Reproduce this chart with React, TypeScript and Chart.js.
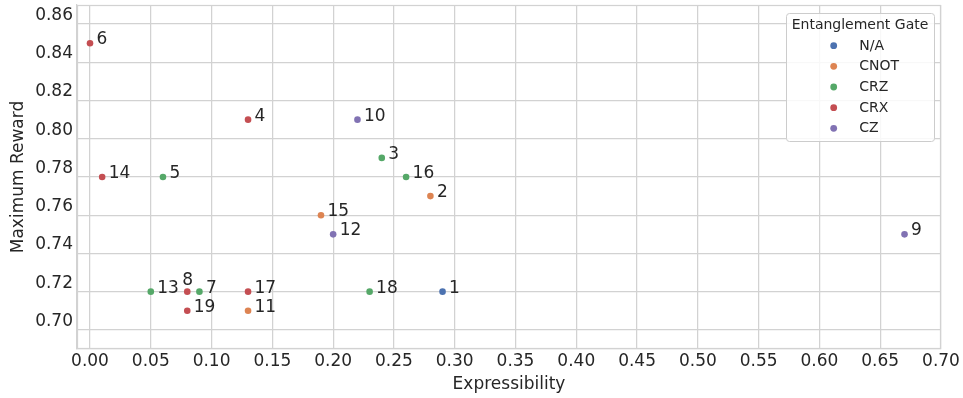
import React, { useEffect, useRef } from "react";
import { Chart, registerables } from "chart.js";

Chart.register(...registerables);

// ---- data ----
const circuitIds = ["1", "2", "3", "4", "5", "6", "7", "8", "9", "10", "11", "12", "13", "14", "15", "16", "17", "18", "19"];
const expressibility = [0.29, 0.28, 0.24, 0.13, 0.06, 0.0, 0.09, 0.08, 0.67, 0.22, 0.13, 0.2, 0.05, 0.01, 0.19, 0.26, 0.13, 0.23, 0.08];
const maxReward = [0.72, 0.77, 0.79, 0.81, 0.78, 0.85, 0.72, 0.72, 0.75, 0.81, 0.71, 0.75, 0.72, 0.78, 0.76, 0.78, 0.72, 0.72, 0.71];
const gateOfCircuit = ["N/A", "CNOT", "CRZ", "CRX", "CRZ", "CRX", "CRZ", "CRX", "CZ", "CZ", "CNOT", "CZ", "CRZ", "CRX", "CNOT", "CRZ", "CRX", "CRZ", "CRX"];
const gateTypes = ["N/A", "CNOT", "CRZ", "CRX", "CZ"];
const gateColors = ["#4C72B0", "#DD8452", "#55A868", "#C44E52", "#8172B3"];
const xTickValues = [0, 0.05, 0.1, 0.15, 0.2, 0.25, 0.3, 0.35, 0.4, 0.45, 0.5, 0.55, 0.6, 0.65, 0.7];
const yTickValues = [0.7, 0.72, 0.74, 0.76, 0.78, 0.8, 0.82, 0.84, 0.86];
const xTitle = "Expressibility";
const yTitle = "Maximum Reward";
const legendTitle = "Entanglement Gate";

const TEXT = "#262626";
const GRID = "#d2d2d2";
const FONT = "DejaVu Sans";

const frameTextPlugin = {
  id: "frameText",
  beforeDatasetsDraw(chart: any) {
    const { ctx, chartArea } = chart;
    ctx.save();
    ctx.strokeStyle = GRID;
    ctx.lineWidth = 1.25;
    ctx.strokeRect(chartArea.left + 0.5, chartArea.top + 0.5, chartArea.right - chartArea.left - 1, chartArea.bottom - chartArea.top - 1);
    ctx.restore();
  },
  afterDatasetsDraw(chart: any) {
    const { ctx } = chart;
    const xs = chart.scales.x;
    const ys = chart.scales.y;
    ctx.save();
    ctx.fillStyle = TEXT;
    ctx.font = `17px "${FONT}"`;
    ctx.textBaseline = "alphabetic";
    circuitIds.forEach((id, i) => {
      const px = xs.getPixelForValue(expressibility[i]);
      const py = ys.getPixelForValue(maxReward[i]);
      if (id === "8") {
        ctx.textAlign = "center";
        ctx.fillText(id, px + 0.5, py - 7);
      } else {
        ctx.textAlign = "left";
        ctx.fillText(id, px + 6.5, py + 1);
      }
    });
    ctx.restore();

    // legend
    const bx = 786, by = 13, bw = 148, bh = 128;
    ctx.save();
    ctx.beginPath();
    ctx.roundRect(bx + 0.5, by + 0.5, bw, bh, 3);
    ctx.fillStyle = "rgba(255,255,255,0.85)";
    ctx.fill();
    ctx.strokeStyle = "#cccccc";
    ctx.lineWidth = 1;
    ctx.stroke();
    ctx.fillStyle = TEXT;
    ctx.font = `14px "${FONT}"`;
    ctx.textAlign = "center";
    ctx.textBaseline = "alphabetic";
    ctx.fillText(legendTitle, bx + bw / 2, by + 16);
    gateTypes.forEach((g, i) => {
      const cy = 45.7 + i * 20.65;
      ctx.beginPath();
      ctx.arc(833.7, cy, 3.4, 0, Math.PI * 2);
      ctx.fillStyle = gateColors[i];
      ctx.fill();
      ctx.fillStyle = TEXT;
      ctx.textAlign = "left";
      ctx.textBaseline = "middle";
      ctx.fillText(g, 859.3, cy + 0.5);
    });
    ctx.restore();
  },
};

export default function App() {
  const canvasRef = useRef<HTMLCanvasElement | null>(null);

  useEffect(() => {
    const canvas = canvasRef.current;
    if (!canvas) return;
    Chart.defaults.font.family = FONT;
    Chart.defaults.color = TEXT;

    const datasets = gateTypes.map((g, gi) => {
      const pts: { x: number; y: number }[] = [];
      circuitIds.forEach((_, i) => {
        if (gateOfCircuit[i] === g) pts.push({ x: expressibility[i], y: maxReward[i] });
      });
      return {
        label: g,
        data: pts,
        backgroundColor: gateColors[gi],
        borderColor: gateColors[gi],
        borderWidth: 0,
        pointRadius: 3.3,
        pointHoverRadius: 3.3,
      };
    });

    const chart = new Chart(canvas, {
      type: "scatter",
      data: { datasets },
      options: {
        animation: false,
        responsive: false,
        devicePixelRatio: 1,
        layout: { padding: { top: 5, right: 22, bottom: 0, left: 0 } },
        plugins: {
          legend: { display: false },
          tooltip: { enabled: false },
        },
        scales: {
          x: {
            type: "linear",
            min: -0.0107,
            max: 0.7,
            afterBuildTicks(scale: any) {
              scale.ticks = xTickValues.map((v) => ({ value: v }));
            },
            afterFit(scale: any) {
              scale.height = 49;
              scale.paddingLeft = 0;
              scale.paddingRight = 0;
            },
            grid: { color: GRID, lineWidth: 1.25, drawTicks: false },
            border: { color: GRID, width: 1.25 },
            ticks: {
              autoSkip: false,
              maxRotation: 0,
              padding: 2,
              color: TEXT,
              font: { size: 17, lineHeight: 1.2 },
              callback: (v: any) => Number(v).toFixed(2),
            },
            title: {
              display: true,
              text: xTitle,
              color: TEXT,
              font: { size: 17, lineHeight: 1.2 },
              padding: { top: 0, bottom: 3 },
            },
          },
          y: {
            type: "linear",
            min: 0.69,
            max: 0.87,
            afterBuildTicks(scale: any) {
              scale.ticks = yTickValues.map((v) => ({ value: v }));
            },
            afterFit(scale: any) {
              scale.width = 77;
              scale.paddingTop = 0;
              scale.paddingBottom = 0;
            },
            grid: { color: GRID, lineWidth: 1.25, drawTicks: false },
            border: { color: GRID, width: 1.25 },
            ticks: {
              autoSkip: false,
              padding: 4,
              labelOffset: -8.5,
              color: TEXT,
              font: { size: 17, lineHeight: 1.2 },
              callback: (v: any) => Number(v).toFixed(2),
            },
            title: {
              display: true,
              text: yTitle,
              color: TEXT,
              font: { size: 17, lineHeight: 1.2 },
              padding: { top: 8.8, bottom: 0 },
            },
          },
        },
      },
      plugins: [frameTextPlugin],
    } as any);

    return () => chart.destroy();
  }, []);

  return (
    <div style={{ position: "fixed", left: 0, top: 0, width: 963, height: 398, background: "#ffffff" }}>
      <canvas ref={canvasRef} width={963} height={398} style={{ display: "block", width: 963, height: 398 }} />
    </div>
  );
}
